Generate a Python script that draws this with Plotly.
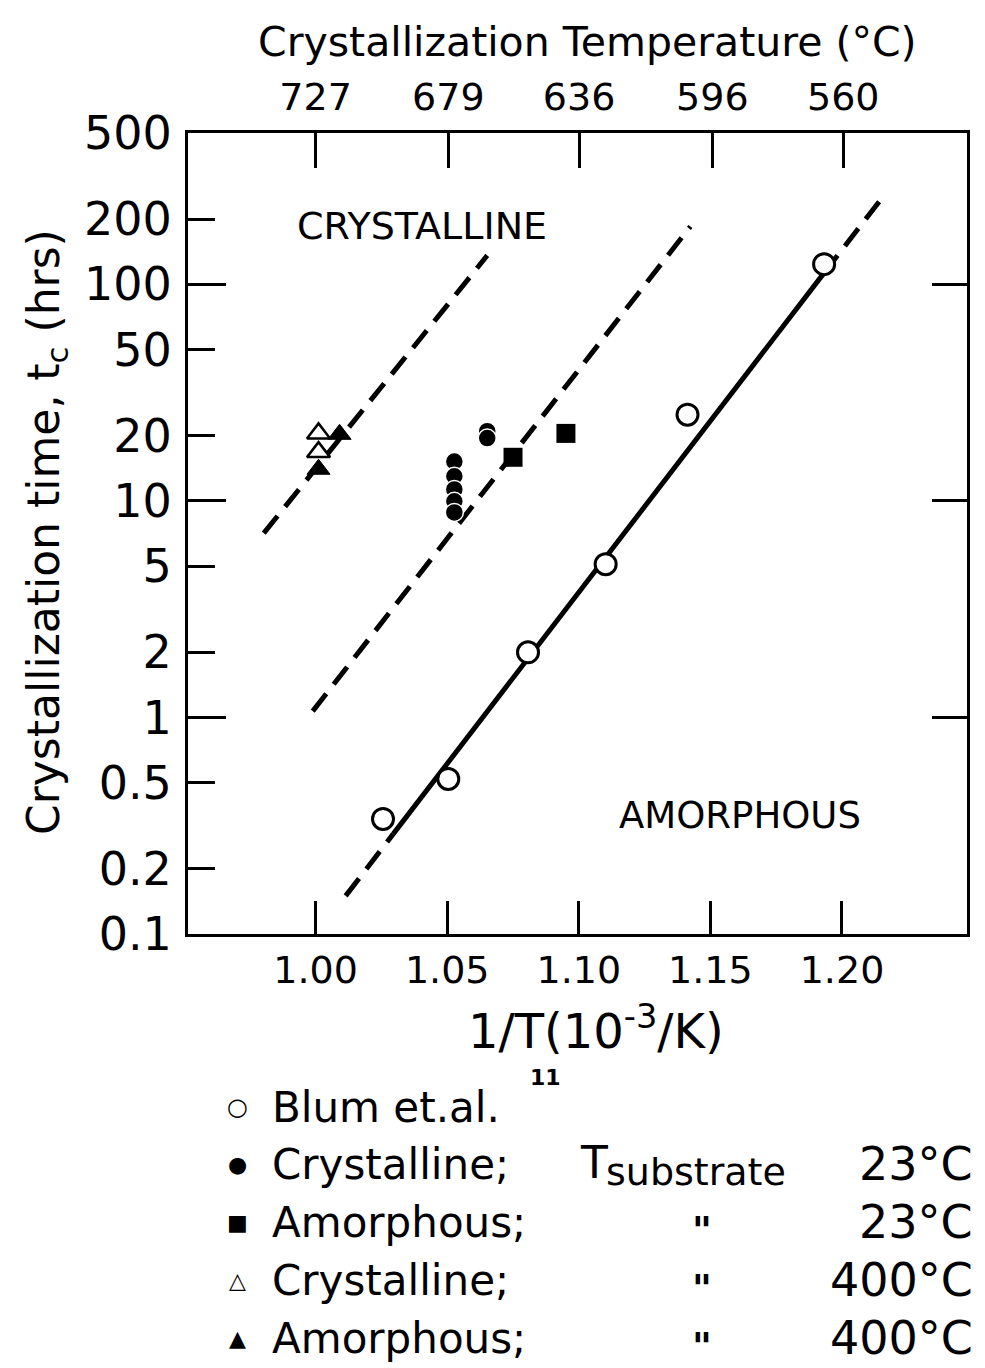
import plotly.graph_objects as go

# ---------------- data ----------------
blum_x = [1.0256, 1.0504, 1.0807, 1.1102, 1.1413, 1.1932]
blum_t = [0.34, 0.52, 2.0, 5.1, 25, 124]

cryst23_x = [1.0652, 1.0652, 1.0527, 1.0527, 1.0527, 1.0527, 1.0527]
cryst23_t = [21.0, 19.5, 15.2, 13.0, 11.3, 9.96, 8.85]

amor23_x = [1.0750, 1.0951]
amor23_t = [15.9, 20.5]

cryst400_x = [1.0011, 1.0011]
cryst400_t = [20.5, 16.8]

amor400_x = [1.0011, 1.0091]
amor400_t = [14.0, 20.3]

left_bound_x = [0.9803, 1.0652]
left_bound_t = [7.1, 136]
mid_bound_x = [0.9989, 1.1424]
mid_bound_t = [1.07, 185]
fit_x = [1.0114, 1.0295, 1.1932, 1.2148]
fit_t = [0.15, 0.29, 113, 247]

x_ticks = [1.00, 1.05, 1.10, 1.15, 1.20]
x_ticktext = ["1.00", "1.05", "1.10", "1.15", "1.20"]
temp_ticks_c = [727, 679, 636, 596, 560]
y_ticks = [0.1, 0.2, 0.5, 1, 2, 5, 10, 20, 50, 100, 200, 500]
y_ticktext = ["0.1", "0.2", "0.5", "1", "2", "5", "10", "20", "50", "100", "200", "500"]
y_major = [1, 10, 100]

legend_labels = ["Blum et.al.", "Crystalline;", "Amorphous;", "Crystalline;", "Amorphous;"]
legend_glyphs = ["○", "●", "■", "△", "▲"]
legend_temps = ["", "23°C", "23°C", "400°C", "400°C"]
legend_ditto = ["", "", "\"", "\"", "\""]

# ---------------- geometry ----------------
W, H = 985, 1368
L, R, T, B = 188, 18, 133, 434
PW, PH = W - L - R, H - T - B
XR = [0.9515, 1.2475]
YR = [-1, 2.69897]

def px(x):
    return (x - L) / PW

def py(y):
    return (H - B - y) / PH

FONT = "DejaVu Sans"
DASH = "22px,12px"

fig = go.Figure()

def line(xs, ys, dash):
    fig.add_trace(go.Scatter(x=xs, y=ys, mode="lines", showlegend=False,
                             line=dict(color="black", width=5, dash=dash),
                             hoverinfo="skip"))

line(left_bound_x, left_bound_t, DASH)
line(mid_bound_x, mid_bound_t, DASH)
line(fit_x[0:2], fit_t[0:2], DASH)
line(fit_x[1:3], fit_t[1:3], "solid")
line(fit_x[2:4], fit_t[2:4], DASH)

fig.add_trace(go.Scatter(x=blum_x, y=blum_t, mode="markers", showlegend=False,
                         marker=dict(symbol="circle", size=21, color="white",
                                     line=dict(color="black", width=3))))
fig.add_trace(go.Scatter(x=cryst23_x, y=cryst23_t, mode="markers", showlegend=False,
                         marker=dict(symbol="circle", size=18, color="black",
                                     line=dict(color="white", width=1.5))))
fig.add_trace(go.Scatter(x=amor23_x, y=amor23_t, mode="markers", showlegend=False,
                         marker=dict(symbol="square", size=19, color="black",
                                     line=dict(color="black", width=0))))
fig.add_trace(go.Scatter(x=amor400_x, y=amor400_t, mode="markers", showlegend=False,
                         marker=dict(symbol="triangle-up", size=20, color="black",
                                     line=dict(color="black", width=1))))
fig.add_trace(go.Scatter(x=cryst400_x, y=cryst400_t, mode="markers", showlegend=False,
                         marker=dict(symbol="triangle-up", size=20, color="white",
                                     line=dict(color="black", width=2.5))))

# invisible traces to activate the extra axes
fig.add_trace(go.Scatter(x=XR, y=[1, 1], xaxis="x2", yaxis="y", mode="lines",
                         line=dict(width=0), showlegend=False, hoverinfo="skip"))
fig.add_trace(go.Scatter(x=XR, y=[1, 1], xaxis="x", yaxis="y3", mode="lines",
                         line=dict(width=0), showlegend=False, hoverinfo="skip"))
fig.add_trace(go.Scatter(x=XR, y=[1, 1], xaxis="x", yaxis="y4", mode="lines",
                         line=dict(width=0), showlegend=False, hoverinfo="skip"))

temp_ticks_x = [1000.0 / (t + 273) for t in temp_ticks_c]

fig.update_layout(
    width=W, height=H,
    margin=dict(l=L, r=R, t=T, b=B),
    paper_bgcolor="white", plot_bgcolor="white",
    showlegend=False,
    xaxis=dict(range=XR, showgrid=False, zeroline=False,
               showline=True, mirror=True, linecolor="black", linewidth=3,
               tickmode="array", tickvals=x_ticks, ticktext=x_ticktext,
               ticks="inside", ticklen=33, tickwidth=2.5, tickcolor="black",
               tickfont=dict(family=FONT, size=38, color="black"),
               ticklabelstandoff=0),
    xaxis2=dict(range=XR, overlaying="x", side="top", showgrid=False, zeroline=False,
                showline=False, tickmode="array", tickvals=temp_ticks_x,
                ticktext=[str(t) for t in temp_ticks_c],
                ticks="inside", ticklen=35, tickwidth=2.5, tickcolor="black",
                tickfont=dict(family=FONT, size=38, color="black"),
                ticklabelstandoff=14),
    yaxis=dict(type="log", range=YR, showgrid=False, zeroline=False,
               showline=True, mirror=True, linecolor="black", linewidth=3,
               tickmode="array", tickvals=y_ticks, ticktext=y_ticktext,
               ticks="inside", ticklen=27, tickwidth=2.5, tickcolor="black",
               tickfont=dict(family=FONT, size=46, color="black"),
               ticklabelstandoff=4),
    yaxis3=dict(type="log", range=YR, overlaying="y", side="left", showgrid=False,
                zeroline=False, showline=False, tickmode="array", tickvals=y_major,
                ticks="inside", ticklen=38, tickwidth=2.5, tickcolor="black",
                showticklabels=False),
    yaxis4=dict(type="log", range=YR, overlaying="y", side="right", showgrid=False,
                zeroline=False, showline=False, tickmode="array", tickvals=y_major,
                ticks="inside", ticklen=35, tickwidth=2.5, tickcolor="black",
                showticklabels=False),
)

ann = []

def text(x, y, s, size=40, xanchor="center", family=FONT, angle=0, yanchor="middle"):
    ann.append(dict(x=px(x), y=py(y), xref="paper", yref="paper", text=s,
                    showarrow=False, xanchor=xanchor, yanchor=yanchor, textangle=angle,
                    font=dict(family=family, size=size, color="black")))

text(587, 42, "Crystallization Temperature (°C)", size=41)
text(596, 1028, "1/T(10<sup>-3</sup>/K)", size=48)
text(46, 532, "Crystallization time, t<sub>c</sub> (hrs)", size=44, angle=-90)
text(422, 226, "CRYSTALLINE", size=38)
text(740, 815, "AMORPHOUS", size=37)

rows = [1107, 1164, 1222, 1280, 1338]
gsize = [24, 22, 22, 22, 22]
for i, yy in enumerate(rows):
    text(237, yy, legend_glyphs[i], size=gsize[i])
    text(270, yy, legend_labels[i], size=42, xanchor="left")
    if legend_temps[i]:
        text(975, yy, legend_temps[i], size=46, xanchor="right")
    if legend_ditto[i]:
        text(702, yy + 8, "<b>" + legend_ditto[i] + "</b>", size=38)
text(545, 1077, "<b>11</b>", size=22)
text(578, 1162, "T", size=44, xanchor="left")
text(604, 1172, "substrate", size=38, xanchor="left")

fig.update_layout(annotations=ann)
fig.write_html("out.html")
